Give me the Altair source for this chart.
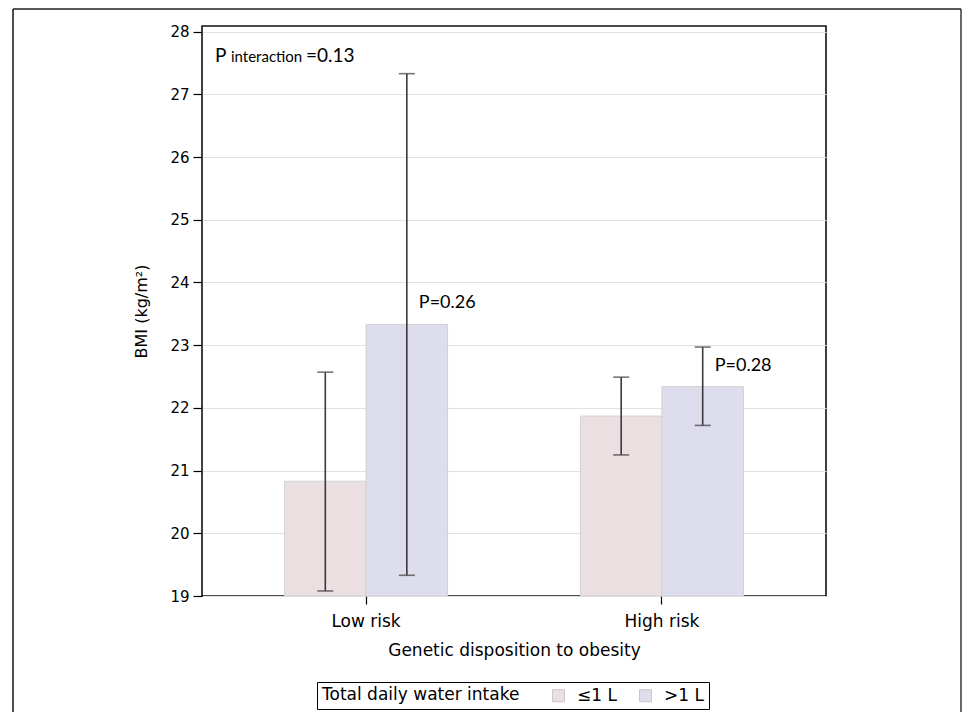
import altair as alt
import pandas as pd

# ---- data ----
groups = ["Low risk", "Low risk", "High risk", "High risk"]
intake = ["≤1 L", ">1 L", "≤1 L", ">1 L"]
bmi_mean = [20.83, 23.33, 21.87, 22.34]
ci_lower = [19.08, 19.33, 21.25, 21.72]
ci_upper = [22.57, 27.33, 22.49, 22.97]

p_groups = ["Low risk", "High risk"]
p_intake = [">1 L", ">1 L"]
p_labels = ["P=0.26", "P=0.28"]
p_ypos = [23.59, 22.59]

group_order = ["Low risk", "High risk"]
intake_order = ["≤1 L", ">1 L"]
y_ticks = [19, 20, 21, 22, 23, 24, 25, 26, 27, 28]

df = pd.DataFrame(dict(group=groups, intake=intake, bmi=bmi_mean, lo=ci_lower, hi=ci_upper))
pdf = pd.DataFrame(dict(group=p_groups, intake=p_intake, label=p_labels, y=p_ypos))
one = pd.DataFrame({"k": [0]})

AXFONT = "DejaVu Sans"
ANNFONT = "Lato"

xscale = alt.Scale(domain=group_order, paddingInner=0.449, paddingOuter=0.279)
xoff_scale = alt.Scale(domain=intake_order, paddingInner=0, paddingOuter=0)
yscale = alt.Scale(domain=[19, 28.09], zero=False, nice=False)

x_enc = alt.X(
    "group:N", scale=xscale, sort=group_order,
    axis=alt.Axis(title="Genetic disposition to obesity", labelAngle=0, tickSize=8,
                  labelPadding=9, titlePadding=13, domain=False, grid=False,
                  tickColor="black", tickWidth=1.2, labelFont=AXFONT, labelFontSize=17,
                  titleFont=AXFONT, titleFontSize=17, titleFontWeight="normal",
                  labelColor="black", titleColor="black"),
)
y_axis = alt.Axis(title="BMI (kg/m²)", values=y_ticks, format="d", tickSize=9,
                  labelPadding=4, titlePadding=20, domain=False, grid=True,
                  gridColor="#e2e2e2", gridWidth=1, tickColor="black", tickWidth=1.2,
                  labelFont=AXFONT, labelFontSize=15, titleFont=AXFONT, titleFontSize=16,
                  titleFontWeight="normal", labelColor="black", titleColor="black")

base = alt.Chart(df)

bars = base.mark_bar(stroke="#d2d2d2", strokeWidth=1).encode(
    x=x_enc,
    xOffset=alt.XOffset("intake:N", scale=xoff_scale, sort=intake_order),
    y=alt.Y("bmi:Q", scale=yscale, axis=y_axis),
    y2=alt.datum(19),
    color=alt.Color(
        "intake:N",
        scale=alt.Scale(domain=intake_order, range=["#ecdfe2", "#dddded"]),
        legend=alt.Legend(
            title="Total daily water intake", orient="none", legendX=115, legendY=656,
            direction="horizontal", titleOrient="left", strokeColor="black", padding=5,
            symbolType="square", symbolSize=144, symbolStrokeColor="#c8c8c8",
            symbolStrokeWidth=1, labelFont=AXFONT, labelFontSize=17, titleFont=AXFONT,
            titleFontSize=17, titleFontWeight="normal", titlePadding=30, labelOffset=10,
            columnPadding=20, titleColor="black", labelColor="black", titleLimit=400,
        ),
    ),
)

err = base.mark_rule(color="#3a3a3a", strokeWidth=1.6).encode(
    x=alt.X("group:N", scale=xscale, sort=group_order),
    xOffset=alt.XOffset("intake:N", scale=xoff_scale, sort=intake_order),
    y=alt.Y("lo:Q", scale=yscale),
    y2="hi:Q",
)
cap_lo = base.mark_tick(color="#3a3a3a", thickness=1.6, size=16).encode(
    x=alt.X("group:N", scale=xscale, sort=group_order),
    xOffset=alt.XOffset("intake:N", scale=xoff_scale, sort=intake_order),
    y=alt.Y("lo:Q", scale=yscale),
)
cap_hi = base.mark_tick(color="#3a3a3a", thickness=1.6, size=16).encode(
    x=alt.X("group:N", scale=xscale, sort=group_order),
    xOffset=alt.XOffset("intake:N", scale=xoff_scale, sort=intake_order),
    y=alt.Y("hi:Q", scale=yscale),
)

plabels = alt.Chart(pdf).mark_text(
    align="left", baseline="alphabetic", dx=12, font=ANNFONT, fontSize=18, color="black"
).encode(
    x=alt.X("group:N", scale=xscale, sort=group_order),
    xOffset=alt.XOffset("intake:N", scale=xoff_scale, sort=intake_order),
    y=alt.Y("y:Q", scale=yscale),
    text="label:N",
)

t_p = alt.Chart(one).mark_text(text="P", align="left", baseline="alphabetic",
                               font=ANNFONT, fontSize=19, color="black").encode(
    x=alt.value(13), y=alt.value(36))
t_int = alt.Chart(one).mark_text(text="interaction", align="left", baseline="alphabetic",
                                 font=ANNFONT, fontSize=15, color="black").encode(
    x=alt.value(29), y=alt.value(36))
t_val = alt.Chart(one).mark_text(text="=0.13", align="left", baseline="alphabetic",
                                 font=ANNFONT, fontSize=19, color="black").encode(
    x=alt.value(104), y=alt.value(36))

frame_l = alt.Chart(one).mark_rule(color="#222", strokeWidth=1.6).encode(
    x=alt.value(-189), y=alt.value(-17), y2=alt.value(690))
frame_r = alt.Chart(one).mark_rule(color="#444", strokeWidth=1.6).encode(
    x=alt.value(759), y=alt.value(-17), y2=alt.value(690))
frame_t = alt.Chart(one).mark_rule(color="#222", strokeWidth=1.6).encode(
    x=alt.value(-189), x2=alt.value(759), y=alt.value(-17))

chart = alt.layer(
    bars, err, cap_lo, cap_hi, plabels, t_p, t_int, t_val, frame_l, frame_r, frame_t
).properties(
    width=624, height=570,
    autosize=alt.AutoSizeParams(type="none"),
    padding={"left": 194, "top": 18, "right": 136, "bottom": 116},
).configure(
    background="white",
    view=alt.ViewConfig(stroke="#111", strokeWidth=1.6),
)

chart.save("out.html", embed_options={"renderer": "svg", "actions": False})
